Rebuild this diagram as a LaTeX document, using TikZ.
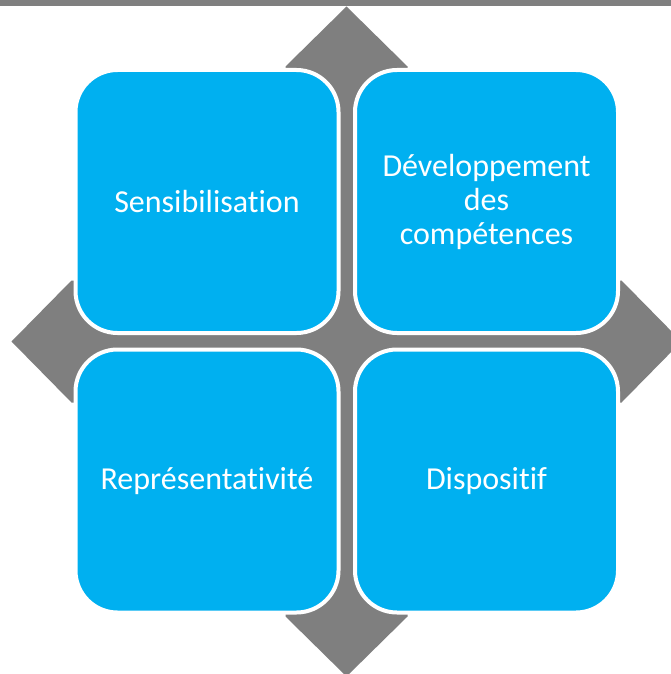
\documentclass[tikz,border=0pt]{standalone}
\usepackage{fontspec}
\setmainfont{Carlito}[Ligatures={NoCommon}]
\definecolor{cyanbox}{HTML}{00B0F0}
\definecolor{greyshape}{HTML}{7F7F7F}
\begin{document}
\begin{tikzpicture}[x=1pt,y=-1pt,
  quad/.style={draw=white, line width=4pt, fill=cyanbox, rounded corners=42pt,
    minimum width=263pt, minimum height=263pt, inner sep=0pt,
    text=white, align=center, font=\fontsize{32}{34}\selectfont}]
\useasboundingbox (0,0) rectangle (671,674);
\clip (0,0) rectangle (671,674);
\fill[white] (0,0) rectangle (671,674);
\fill[greyshape] (0,0) rectangle (671,6);
% background quad arrow
\def\cx{346.5}\def\cy{341.5}
\fill[greyshape]
  (\cx-61,\cy-275) -- (\cx,\cy-335) -- (\cx+61,\cy-275) -- (\cx+61,\cy-61)
  -- (\cx+275,\cy-61) -- (\cx+335,\cy) -- (\cx+275,\cy+61) -- (\cx+61,\cy+61)
  -- (\cx+61,\cy+275) -- (\cx,\cy+335) -- (\cx-61,\cy+275) -- (\cx-61,\cy+61)
  -- (\cx-275,\cy+61) -- (\cx-335,\cy) -- (\cx-275,\cy-61) -- (\cx-61,\cy-61) -- cycle;
\node[quad] (tl) at (207,201.5) {Sensibilisation};
\node[quad] (tr) at (486.5,201.5) {Développement\\des\\compétences};
\node[quad] (bl) at (207,481) {Représentativité};
\node[quad] (br) at (486.5,481) {Dispositif};
\end{tikzpicture}
\end{document}
